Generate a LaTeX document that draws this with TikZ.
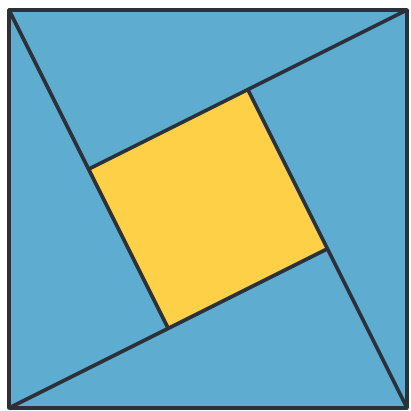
\documentclass[tikz,border=0pt]{standalone}
\usepackage{xcolor}
\usepackage{tikz}

\definecolor{tileblue}{RGB}{94,172,207}
\definecolor{tileyellow}{RGB}{253,208,72}
\definecolor{inkgray}{RGB}{43,49,56}

\begin{document}
\begin{tikzpicture}[
    edge/.style={draw=inkgray, line width=1.3pt, line cap=round, line join=round},
]
    \useasboundingbox (-0.113,-0.038) rectangle (5.038,5.125);

    % Outer corners
    \coordinate (bl) at (0,0);
    \coordinate (br) at (5,0);
    \coordinate (tr) at (5,5);
    \coordinate (tl) at (0,5);

    % Inner square
    \coordinate (in1) at (1,3);
    \coordinate (in2) at (3,4);
    \coordinate (in3) at (4,2);
    \coordinate (in4) at (2,1);

    % Fills
    \fill[tileblue] (bl) rectangle (tr);
    \fill[tileyellow] (in1) -- (in2) -- (in3) -- (in4) -- cycle;

    % Lines
    \draw[edge] (tl) -- (in4);
    \draw[edge] (tr) -- (in1);
    \draw[edge] (br) -- (in2);
    \draw[edge] (bl) -- (in3);
    \draw[edge] (bl) rectangle (tr);
\end{tikzpicture}
\end{document}
